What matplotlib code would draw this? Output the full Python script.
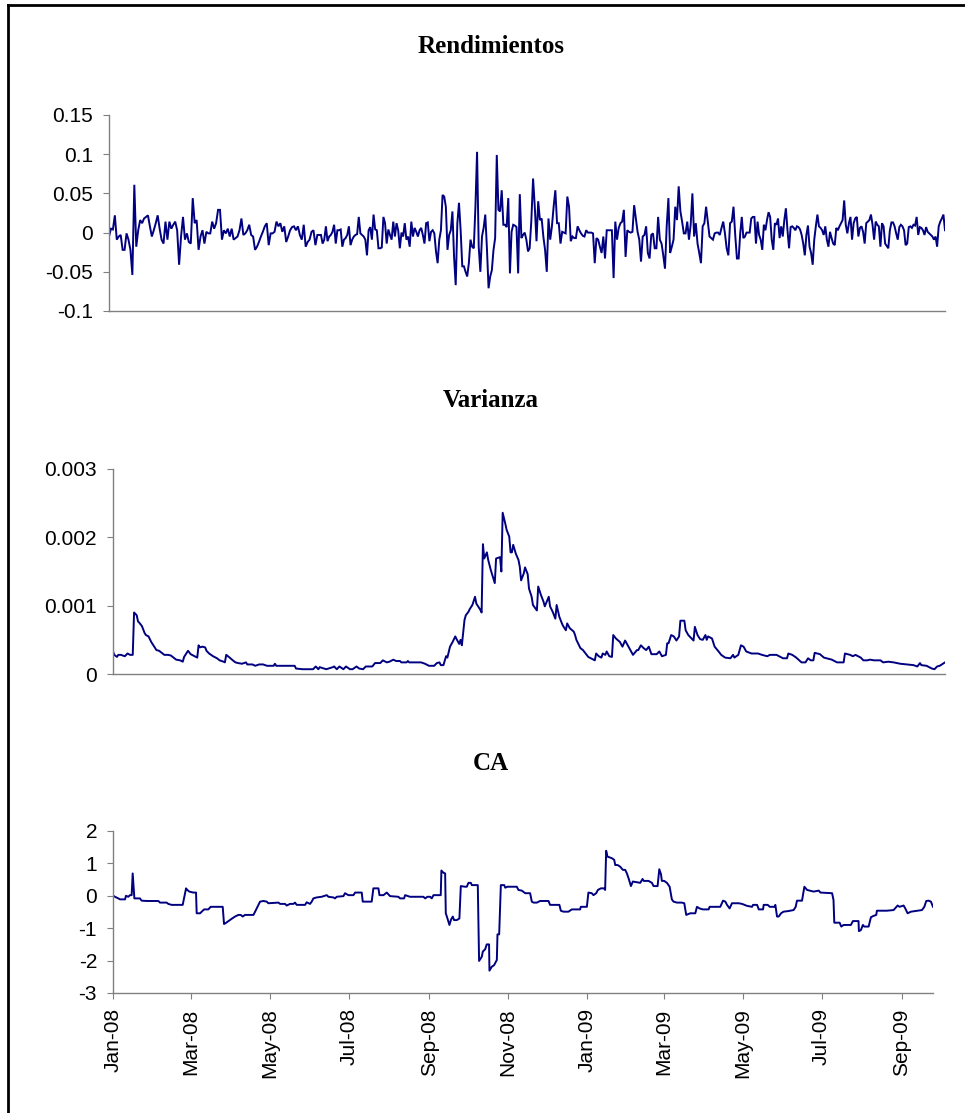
import numpy as np
import pandas as pd
import matplotlib
matplotlib.use("Agg")
import matplotlib.pyplot as plt
import matplotlib.dates as mdates
from matplotlib.lines import Line2D

plt.rcParams['font.family'] = ['Liberation Sans', 'DejaVu Sans']

# ---------------- data ----------------
titles = ["Rendimientos", "Varianza", "CA"]
start = pd.Timestamp("2008-01-01")

# daily returns, read in four consecutive stretches of the period
ret_seg1 = [-0.005, 0.005, 0.004, 0.022, -0.009, -0.005, -0.003, -0.022, -0.022, -0.001,
            -0.009, -0.022, -0.054, 0.061, -0.018, 0.003, 0.016, 0.012, 0.018, 0.020,
            0.022, 0.008, -0.005, 0.003, 0.012, 0.022, 0.005, -0.009, -0.014, 0.014,
            -0.009, 0.014, 0.005, 0.010, 0.014, 0.003, -0.041, -0.005, 0.020, -0.009,
            -0.001, -0.012, -0.014, 0.044, 0.012, 0.016, -0.022, -0.005, 0.003, -0.014,
            0.001, -0.001, -0.001, 0.014, 0.005, 0.012, 0.029, 0.029, -0.009, 0.003,
            -0.001, 0.005, -0.005, 0.005, -0.009, -0.007, -0.005, 0.003, 0.018, -0.003,
            -0.001, 0.003, 0.010, -0.003, -0.005, -0.022, -0.018, -0.012, -0.005, 0.001,
            0.008, 0.012, -0.016, -0.001, -0.001, 0.001, 0.014, 0.008, 0.012, 0.001,
            0.008, -0.012, -0.005, 0.003, 0.007, 0.008, 0.003, 0.008, -0.003, -0.009,
            0.010, -0.018, -0.012, -0.009, 0.001, 0.003, -0.016, -0.003]
ret_seg2 = [-0.003, -0.003, -0.014, -0.009, 0.008, -0.011, -0.005, -0.003, 0.001, 0.010,
            -0.014, 0.003, 0.003, 0.004, -0.018, -0.009, -0.007, -0.003, 0.008, -0.016,
            -0.009, -0.005, -0.003, -0.002, 0.020, -0.001, -0.003, -0.005, -0.009, -0.029,
            0.003, 0.007, -0.009, 0.023, 0.004, 0.003, -0.020, -0.020, -0.019, 0.020,
            0.012, -0.014, 0.004, -0.003, -0.009, 0.014, -0.005, 0.012, 0.003, -0.020,
            0.000, -0.005, 0.012, -0.009, -0.005, -0.018, 0.014, -0.005, 0.006, 0.001,
            -0.005, 0.003, 0.006, -0.003, -0.014, 0.012, 0.013, -0.011, 0.001, 0.003,
            -0.001, -0.024, -0.039, -0.009, 0.003, 0.048, 0.046, 0.033, -0.022, -0.003,
            0.003, 0.027, -0.031, -0.067, 0.012, 0.038, 0.003, -0.043, -0.043, -0.050,
            -0.056, -0.039, -0.009, -0.018, -0.020, 0.033, 0.103, -0.018, -0.050, -0.005,
            0.006, 0.023, -0.020, -0.071, -0.056, -0.048, -0.022, -0.007, 0.099, 0.029,
            0.027, 0.054, 0.010, 0.010, 0.007, 0.044, -0.052, 0.001, 0.010, 0.009,
            0.007, -0.052, 0.049, -0.007, -0.003, 0.000, -0.009, -0.024]
ret_seg3 = [-0.020, 0.016, 0.069, 0.033, -0.011, 0.040, 0.016, 0.018, -0.005, -0.022,
            -0.050, 0.018, -0.009, 0.008, 0.033, 0.054, 0.012, 0.012, -0.014, 0.001,
            0.000, -0.001, 0.046, 0.033, -0.011, -0.005, -0.007, -0.007, 0.008, 0.003,
            -0.001, -0.004, -0.005, 0.003, 0.000, 0.000, 0.000, -0.001, -0.039, -0.007,
            -0.009, -0.018, -0.026, -0.005, -0.033, 0.003, 0.003, 0.003, 0.003, -0.058,
            0.014, -0.009, 0.006, 0.012, 0.014, 0.029, -0.031, 0.003, 0.001, 0.000,
            0.001, 0.035, 0.018, 0.001, -0.009, -0.037, -0.005, -0.003, 0.008, -0.026,
            -0.033, -0.003, -0.001, -0.020, -0.020, 0.020, -0.009, -0.014, -0.029, -0.046,
            0.008, 0.044, -0.026, -0.018, -0.009, 0.033, 0.016, 0.059, 0.027, 0.014,
            -0.001, -0.001, 0.014, -0.009, 0.010, 0.050, -0.005, 0.012, -0.014, -0.026,
            -0.039, 0.008, 0.012, 0.033, 0.014, -0.005, -0.007, -0.009, -0.001, 0.000,
            0.000, -0.003, 0.006, 0.014, -0.001, -0.020, -0.029, 0.012, 0.014, 0.033,
            -0.003, -0.033]
ret_seg4 = [-0.033, -0.001, 0.020, -0.007, -0.005, 0.000, 0.000, 0.000, 0.018, 0.020,
            0.020, -0.014, 0.014, -0.003, -0.009, -0.022, 0.010, 0.003, 0.016, 0.026,
            0.020, -0.009, -0.022, 0.012, 0.010, 0.018, -0.007, 0.008, -0.005, 0.016,
            0.031, 0.003, -0.020, 0.007, 0.008, 0.006, 0.003, 0.008, 0.007, 0.004,
            -0.003, -0.014, -0.029, -0.003, 0.009, -0.018, -0.026, -0.041, -0.009, 0.008,
            0.023, 0.008, 0.006, 0.003, -0.003, 0.008, -0.009, -0.018, 0.001, -0.007,
            -0.014, -0.016, 0.006, 0.003, 0.008, 0.012, 0.016, 0.041, 0.010, -0.001,
            0.012, 0.020, -0.009, 0.012, 0.018, 0.020, -0.005, 0.006, 0.008, 0.001,
            -0.014, 0.012, 0.014, 0.016, 0.023, 0.010, -0.009, 0.014, 0.010, 0.008,
            -0.018, 0.012, 0.008, -0.014, -0.017, -0.020, 0.003, 0.013, 0.013, 0.008,
            -0.001, -0.009, 0.007, 0.010, 0.008, 0.003, -0.016, -0.014, 0.007, 0.008,
            0.006, 0.010, 0.009, 0.020, -0.003, 0.007, 0.006, 0.003, -0.003, 0.007,
            0.001, -0.001, -0.003, -0.005, -0.009, -0.005, -0.018, 0.008, 0.014, 0.018,
            0.023, 0.003]
# day (since 2008-01-01) at which each stretch of returns begins / ends
ret_edges_day = [1, 160, 319, 477, 633]

# conditional variance: (day since 2008-01-01, value in units of 1e-4)
var_obs = [(1, 3.3), (2, 2.8), (4, 2.5), (5, 2.8), (7, 2.8), (10, 2.6), (11, 2.8), (12, 3.0),
           (14, 2.8), (16, 2.8), (17, 9.0), (19, 8.6), (20, 7.7), (21, 7.5), (23, 7.0),
           (25, 6.0), (26, 5.7), (28, 5.5), (30, 4.7), (31, 4.4), (33, 3.8), (34, 3.5),
           (36, 3.4), (38, 3.1), (40, 2.8), (43, 2.8), (45, 2.7), (47, 2.4), (49, 2.1),
           (52, 2.0), (54, 1.8), (55, 2.5), (58, 3.4), (60, 2.9), (62, 2.7), (64, 2.5),
           (65, 2.4), (66, 4.2), (67, 3.9), (69, 4.0), (71, 3.9), (72, 3.4), (74, 3.0),
           (77, 2.6), (80, 2.3), (82, 2.0), (85, 1.8), (86, 1.7), (87, 2.8), (89, 2.5),
           (92, 2.0), (94, 1.7), (96, 1.6), (99, 1.5), (102, 1.7), (103, 1.4), (107, 1.4),
           (109, 1.2), (112, 1.4), (115, 1.4), (118, 1.2), (123, 1.2), (124, 1.5), (125, 1.2),
           (133, 1.2), (139, 1.2), (140, 0.8), (145, 0.7), (153, 0.7), (155, 1.1), (157, 0.7),
           (158, 1.0), (163, 0.7), (168, 1.0), (169, 1.1), (171, 0.7), (173, 1.1), (176, 0.7),
           (178, 1.1), (181, 0.7), (183, 0.7), (186, 1.1), (188, 0.8), (191, 0.7), (193, 1.1),
           (198, 1.1), (200, 1.6), (204, 1.6), (206, 2.0), (209, 1.7), (211, 1.8), (214, 2.1),
           (216, 1.9), (219, 1.9), (220, 1.7), (224, 1.7), (225, 1.9), (226, 1.7), (231, 1.7),
           (235, 1.7), (238, 1.5), (241, 1.2), (245, 1.2), (247, 1.6), (249, 1.7), (250, 1.3),
           (252, 1.3), (254, 2.6), (255, 2.4), (257, 4.0), (259, 4.7), (261, 5.5), (262, 5.1),
           (264, 4.4), (265, 5.0), (266, 4.2), (268, 7.9), (269, 8.6), (271, 9.1), (272, 9.5),
           (274, 10.1), (276, 11.3), (277, 10.3), (280, 9.4), (281, 9.0), (282, 19.0),
           (283, 16.9), (285, 17.8), (286, 16.7), (288, 15.2), (291, 13.3), (292, 16.9),
           (295, 17.1), (296, 15.0), (297, 23.6), (299, 22.0), (300, 21.1), (302, 20.1),
           (303, 17.8), (304, 17.8), (305, 18.9), (307, 17.6), (309, 16.7), (310, 15.7),
           (311, 13.7), (313, 14.7), (314, 15.6), (316, 14.6), (317, 12.5), (319, 11.3),
           (320, 10.1), (323, 9.3), (324, 12.8), (326, 11.6), (328, 10.6), (329, 9.9),
           (332, 11.3), (333, 9.9), (335, 9.1), (337, 8.1), (338, 10.1), (340, 8.4), (342, 7.4),
           (343, 7.0), (345, 6.4), (346, 7.4), (348, 6.7), (351, 6.2), (352, 5.7), (353, 5.0),
           (355, 4.2), (356, 3.8), (358, 3.5), (360, 3.0), (362, 2.5), (364, 2.3), (367, 2.0),
           (368, 3.0), (370, 2.6), (372, 2.4), (373, 3.0), (375, 2.8), (376, 3.3), (378, 2.6),
           (380, 2.5), (381, 5.7), (383, 5.2), (386, 4.7), (388, 4.0), (390, 4.9), (392, 4.2),
           (394, 3.5), (396, 2.8), (399, 3.5), (400, 3.5), (402, 4.2), (404, 3.8), (406, 3.5),
           (408, 4.0), (410, 2.9), (414, 2.9), (416, 3.3), (418, 2.6), (421, 2.8), (422, 4.5),
           (423, 4.5), (425, 5.7), (427, 5.5), (429, 4.9), (431, 5.5), (432, 7.8), (435, 7.8),
           (436, 6.4), (438, 5.7), (442, 4.9), (443, 6.9), (445, 5.7), (447, 5.1), (449, 5.0),
           (451, 5.7), (452, 5.0), (453, 5.5), (456, 5.2), (458, 4.0), (461, 3.3), (463, 2.8),
           (466, 2.4), (470, 2.3), (472, 2.8), (473, 2.4), (476, 2.8), (478, 4.2), (480, 4.0),
           (482, 3.3), (486, 3.0), (491, 3.0), (494, 2.8), (498, 2.6), (500, 2.8), (505, 2.8),
           (507, 2.6), (510, 2.3), (513, 2.3), (514, 3.0), (517, 2.8), (520, 2.4), (524, 1.7),
           (527, 1.7), (529, 2.3), (531, 2.0), (533, 2.0), (534, 3.1), (538, 2.9), (541, 2.4),
           (543, 2.3), (547, 2.1), (551, 1.7), (556, 1.7), (557, 3.0), (561, 2.8), (563, 2.6),
           (565, 2.8), (567, 2.6), (569, 2.4), (571, 2.0), (574, 2.0), (576, 2.1), (579, 2.0),
           (584, 2.0), (586, 1.7), (590, 1.8), (594, 1.7), (599, 1.5), (604, 1.4), (609, 1.3),
           (612, 1.1), (614, 1.6), (615, 1.3), (619, 1.2), (623, 0.8), (625, 0.7), (627, 1.1),
           (629, 1.2), (633, 1.7)]

# CA: (day since 2008-01-01, value)
ca_obs = [(0.3, 0.0), (1.5, -0.03), (4.1, -0.08), (5.4, -0.11), (9.3, -0.11), (10, 0.0),
          (11.8, -0.03), (13.1, 0.02), (14.4, 0.02), (15.2, 0.69), (16.5, -0.08), (20.8, -0.08),
          (22.1, -0.15), (26, -0.16), (35, -0.16), (36.3, -0.21), (41.4, -0.21), (42.7, -0.25),
          (45.3, -0.28), (53.8, -0.28), (56.4, 0.23), (57.4, 0.18), (58.9, 0.13), (62, 0.1),
          (64.1, 0.1), (64.6, -0.54), (67.2, -0.54), (68.5, -0.49), (70.3, -0.42), (73.6, -0.42),
          (75.4, -0.34), (84.7, -0.34), (85.7, -0.87), (86.7, -0.85), (89.1, -0.78),
          (91.6, -0.71), (94.2, -0.64), (96.8, -0.59), (98.6, -0.59), (100.1, -0.64),
          (101.9, -0.59), (108.4, -0.59), (109.7, -0.49), (111.5, -0.34), (113.5, -0.18),
          (116.1, -0.16), (118.7, -0.18), (119.9, -0.23), (127.7, -0.21), (129, -0.25),
          (132.8, -0.25), (134.1, -0.3), (136.7, -0.25), (139.3, -0.25), (140.5, -0.21),
          (141.8, -0.28), (148.3, -0.28), (149.5, -0.2), (152.1, -0.25), (153.4, -0.18),
          (154.7, -0.08), (157.3, -0.05), (161.1, -0.03), (165, 0.02), (166.3, -0.03),
          (170.1, -0.05), (171.4, -0.08), (172.7, -0.03), (177.9, -0.01), (179.1, 0.08),
          (181.7, 0.02), (185.6, 0.02), (186.9, 0.1), (192, 0.1), (192.8, -0.18), (199.7, -0.18),
          (201, 0.23), (204.9, 0.23), (205.7, 0.02), (208.8, 0.02), (211.3, 0.1), (213.9, -0.01),
          (220.3, -0.03), (221.6, -0.08), (224.7, -0.08), (225.5, 0.02), (229.3, -0.03),
          (239.6, -0.03), (241, -0.08), (242.7, -0.03), (244.8, -0.03), (246.1, -0.08),
          (247.4, 0.02), (253, 0.02), (253.5, 0.78), (255.1, 0.71), (256.4, 0.69),
          (256.9, -0.54), (258.2, -0.7), (259.7, -0.9), (261, -0.73), (262.3, -0.64),
          (263.3, -0.75), (265.4, -0.75), (267.4, -0.7), (268.5, 0.3), (271.8, 0.28),
          (273.1, 0.28), (274.4, 0.4), (276.2, 0.4), (277, 0.33), (281.6, 0.33), (282.6, -2.01),
          (284.7, -1.88), (285.5, -1.72), (287.3, -1.65), (288.5, -1.5), (290.3, -1.5),
          (290.6, -2.31), (292.4, -2.19), (294.2, -2.14), (296.3, -1.98), (296.8, -1.19),
          (298.1, -1.19), (299.4, 0.33), (302, 0.33), (302.8, 0.25), (304.5, 0.28),
          (311.7, 0.28), (313, 0.18), (315.6, 0.16), (318.2, 0.08), (322, 0.08), (323.3, -0.18),
          (324.6, -0.21), (327.2, -0.21), (329.7, -0.16), (336.2, -0.16), (337.4, -0.28),
          (344.6, -0.28), (345.7, -0.46), (347.7, -0.49), (351.6, -0.49), (354.2, -0.42),
          (360.6, -0.42), (361.1, -0.34), (365.8, -0.34), (367, 0.1), (369.6, 0.08),
          (370.9, 0.02), (373, 0.08), (374.3, 0.18), (376.6, 0.23), (379.1, 0.23),
          (379.9, 0.18), (380.7, 1.39), (381.7, 1.21), (385.1, 1.16), (386.9, 1.11),
          (387.7, 0.95), (389.5, 0.95), (391.5, 0.9), (393.6, 0.8), (395.4, 0.8), (396.7, 0.69),
          (398, 0.54), (399.8, 0.3), (401.3, 0.44), (407, 0.4), (408.8, 0.52), (409.6, 0.46),
          (413.4, 0.46), (416, 0.4), (417.3, 0.3), (420.4, 0.3), (421.7, 0.82), (423, 0.67),
          (423.7, 0.46), (425.5, 0.46), (427.6, 0.4), (429.7, 0.28), (431.4, -0.11),
          (432.7, -0.18), (435.3, -0.21), (439.2, -0.21), (441, -0.23), (442.5, -0.59),
          (445.6, -0.54), (449.5, -0.54), (450.8, -0.34), (452.8, -0.39), (455.4, -0.42),
          (459.8, -0.42), (460.6, -0.34), (468.8, -0.34), (470.9, -0.15), (472.7, -0.18),
          (474, -0.28), (476, -0.39), (477.8, -0.23), (483, -0.23), (485.6, -0.25),
          (489.4, -0.31), (493.3, -0.34), (494.1, -0.28), (497.2, -0.28), (498.5, -0.42),
          (501.8, -0.42), (502.3, -0.28), (505.4, -0.28), (507, -0.34), (510.6, -0.34),
          (511.3, -0.28), (512.6, -0.64), (513.9, -0.64), (515.7, -0.54), (517.6, -0.49),
          (521.5, -0.47), (525.4, -0.44), (527, -0.34), (528, -0.15), (531.9, -0.15),
          (533.7, 0.28), (535.8, 0.18), (540.9, 0.13), (544.8, 0.16), (546.1, 0.1),
          (555.1, 0.08), (556.2, -0.13), (556.8, -0.83), (560.9, -0.83), (562.2, -0.95),
          (564, -0.9), (569.6, -0.9), (571.2, -0.78), (575.5, -0.78), (575.8, -1.09),
          (577.3, -1.06), (578.9, -0.9), (579.9, -0.95), (583.3, -0.95), (585.1, -0.66),
          (587.1, -0.62), (589.2, -0.59), (589.7, -0.46), (597.4, -0.46), (602.6, -0.44),
          (605.7, -0.3), (607.2, -0.34), (610.3, -0.3), (611.6, -0.39), (613.4, -0.54),
          (616, -0.49), (619.3, -0.47), (624.5, -0.44), (626.3, -0.34), (627.8, -0.16),
          (629.6, -0.15), (631.4, -0.18), (633, -0.34)]

ret_ticks = [-0.1, -0.05, 0, 0.05, 0.1, 0.15]
ret_labels = ["-0.1", "-0.05", "0", "0.05", "0.1", "0.15"]
var_ticks = [0, 0.001, 0.002, 0.003]
var_labels = ["0", "0.001", "0.002", "0.003"]
ca_ticks = [-3, -2, -1, 0, 1, 2]
ca_labels = ["-3", "-2", "-1", "0", "1", "2"]


def to_dates(days):
    return start + pd.to_timedelta(np.asarray(days, dtype=float), unit="D")


# returns x positions: evenly spread within each stretch
segs = [ret_seg1, ret_seg2, ret_seg3, ret_seg4]
ret_days = np.concatenate([
    np.linspace(ret_edges_day[k], ret_edges_day[k + 1], len(s), endpoint=(k == len(segs) - 1))
    for k, s in enumerate(segs)])
ret_vals = np.concatenate([np.asarray(s) for s in segs])

var_day, var_e4 = map(np.array, zip(*var_obs))
ca_day, ca_val = map(np.array, zip(*ca_obs))

# ---------------- figure ----------------
W, H = 965, 1113
fig = plt.figure(figsize=(W / 100, H / 100), dpi=100)
fig.patch.set_facecolor("white")

LINE = "#000080"
GREY = "#808080"
TICKFS = 15


def ax_at(l, t, r, b):
    return fig.add_axes([l / W, 1 - b / H, (r - l) / W, (b - t) / H])


def style(ax, ticks, labels, ylim):
    for s in ("top", "right"):
        ax.spines[s].set_visible(False)
    for s in ("left", "bottom"):
        ax.spines[s].set_color(GREY)
        ax.spines[s].set_linewidth(1.0)
    ax.set_ylim(*ylim)
    ax.set_yticks(ticks)
    ax.set_yticklabels(labels)
    ax.tick_params(axis="y", direction="out", length=4.5, width=0.8, color=GREY,
                   pad=7, labelsize=TICKFS, labelcolor="black")
    ax.set_facecolor("none")


first, last = to_dates([1])[0], to_dates([633])[0]

ax1 = ax_at(109, 115, 945, 311)
ax1.plot(to_dates(ret_days), ret_vals, color=LINE, lw=1.4, solid_joinstyle="miter")
style(ax1, ret_ticks, ret_labels, (-0.1, 0.15))
ax1.set_xlim(first, last)
ax1.set_xticks([])

ax2 = ax_at(113, 469, 945, 674)
ax2.plot(to_dates(var_day), var_e4 * 1e-4, color=LINE, lw=1.4)
style(ax2, var_ticks, var_labels, (0, 0.003))
ax2.set_xlim(first, last)
ax2.set_xticks([])

ax3 = ax_at(113, 831, 933, 993)
ax3.plot(to_dates(ca_day), ca_val, color=LINE, lw=1.4)
style(ax3, ca_ticks, ca_labels, (-3, 2))
ax3.set_xlim(start, last)
ax3.xaxis.set_major_locator(mdates.MonthLocator(bymonth=[1, 3, 5, 7, 9, 11]))
ax3.xaxis.set_major_formatter(mdates.DateFormatter("%b-%y"))
ax3.tick_params(axis="x", direction="out", length=4, width=0.8, color=GREY,
                pad=7, labelsize=TICKFS, labelrotation=90)

# titles
for txt, yb in zip(titles, [53, 407, 770]):
    fig.text(491 / W, 1 - yb / H, txt, ha="center", va="baseline",
             fontsize=18, fontweight="bold", family="Liberation Serif")

# outer frame (top and left edges visible)
fig.add_artist(Line2D([8 / W, 8 / W], [0, 1 - 5 / H], color="black", lw=2.0,
                      transform=fig.transFigure))
fig.add_artist(Line2D([8 / W, 1], [1 - 5 / H, 1 - 5 / H], color="black", lw=2.0,
                      transform=fig.transFigure))

fig.savefig("out.png", dpi=100, facecolor="white")
